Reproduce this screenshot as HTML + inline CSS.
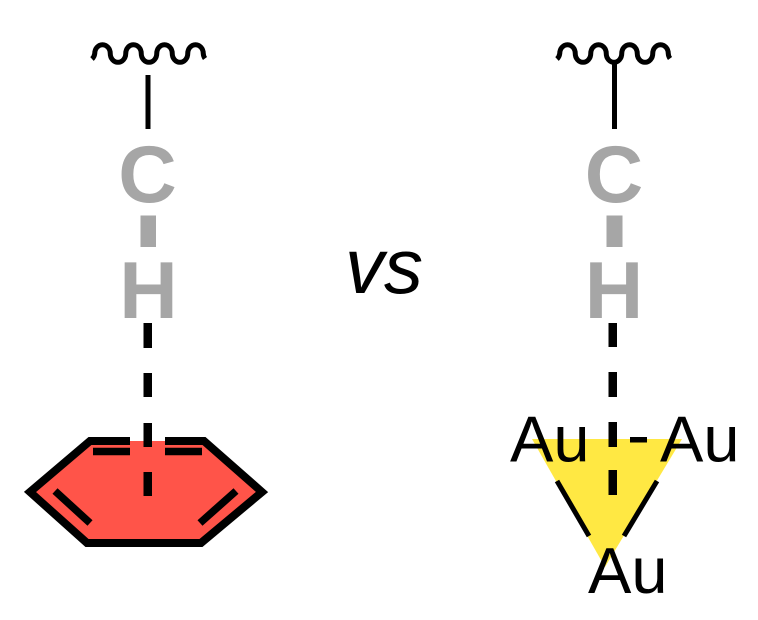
<!DOCTYPE html>
<html>
<head>
<meta charset="utf-8">
<style>
html,body{margin:0;padding:0;background:#fff;}
svg{display:block;}
</style>
</head>
<body>
<svg width="758" height="620" viewBox="0 0 758 620" xmlns="http://www.w3.org/2000/svg">
  <rect width="758" height="620" fill="#fff"/>

  <!-- LEFT: wavy line -->
  <path d="M92,59 A7.75,8.8 0 0 0 94.75,53.5 A7.75,8.8 0 0 1 110.25,53.5 A7.75,8.8 0 0 0 125.75,53.5 A7.75,8.8 0 0 1 141.25,53.5 A7.75,8.8 0 0 0 156.75,53.5 A7.75,8.8 0 0 1 172.25,53.5 A7.75,8.8 0 0 0 187.75,53.5 A7.75,8.8 0 0 1 203.25,53.5 A7.75,8.8 0 0 0 205,58.5"
        fill="none" stroke="#000" stroke-width="5"/>
  <line x1="148" y1="75" x2="148" y2="129" stroke="#000" stroke-width="5"/>

  <!-- LEFT: C-H -->
  <text x="147.5" y="202" text-anchor="middle" font-family="Liberation Sans, Arial, sans-serif" font-weight="bold" font-size="81" fill="#a6a6a6">C</text>
  <rect x="140.5" y="215.5" width="15.5" height="31.5" fill="#a6a6a6"/>
  <text x="148.5" y="318" text-anchor="middle" font-family="Liberation Sans, Arial, sans-serif" font-weight="bold" font-size="81" fill="#a6a6a6">H</text>

  <!-- LEFT: benzene -->
  <polygon points="30,492 90,441 204,441 262,492 201,543 87,543" fill="#ff5449"/>
  <polyline points="130,441 90,441 30,492 87,543 201,543 262,492 204,441 165,441"
            fill="none" stroke="#000" stroke-width="8" stroke-linejoin="miter" stroke-miterlimit="10"/>
  <line x1="93" y1="451.5" x2="130" y2="451.5" stroke="#000" stroke-width="7.5"/>
  <line x1="165" y1="451.5" x2="202" y2="451.5" stroke="#000" stroke-width="7.5"/>
  <line x1="55" y1="491" x2="90" y2="523" stroke="#000" stroke-width="7.5"/>
  <line x1="236" y1="491" x2="200" y2="523" stroke="#000" stroke-width="7.5"/>

  <!-- LEFT: dashed bond -->
  <rect x="143.5" y="323" width="8.5" height="25" fill="#000"/>
  <rect x="143.5" y="373" width="8.5" height="24" fill="#000"/>
  <rect x="143.5" y="423" width="8.5" height="24" fill="#000"/>
  <rect x="143.5" y="472" width="8.5" height="24" fill="#000"/>

  <!-- vs -->
  <text x="345" y="293" font-family="Liberation Sans, Arial, sans-serif" font-style="italic" font-size="78" fill="#000">vs</text>

  <!-- RIGHT: wavy line -->
  <path d="M557,59 A7.75,8.8 0 0 0 559.75,53.5 A7.75,8.8 0 0 1 575.25,53.5 A7.75,8.8 0 0 0 590.75,53.5 A7.75,8.8 0 0 1 606.25,53.5 A7.75,8.8 0 0 0 621.75,53.5 A7.75,8.8 0 0 1 637.25,53.5 A7.75,8.8 0 0 0 652.75,53.5 A7.75,8.8 0 0 1 668.25,53.5 A7.75,8.8 0 0 0 670,58.5"
        fill="none" stroke="#000" stroke-width="5"/>
  <line x1="614.5" y1="60" x2="614.5" y2="129" stroke="#000" stroke-width="5"/>

  <!-- RIGHT: C-H -->
  <text x="614" y="202" text-anchor="middle" font-family="Liberation Sans, Arial, sans-serif" font-weight="bold" font-size="81" fill="#a6a6a6">C</text>
  <rect x="606.5" y="215.5" width="16" height="31.5" fill="#a6a6a6"/>
  <text x="614" y="318" text-anchor="middle" font-family="Liberation Sans, Arial, sans-serif" font-weight="bold" font-size="81" fill="#a6a6a6">H</text>

  <!-- RIGHT: Au3 triangle -->
  <polygon points="532,439 682,439 605,567" fill="#ffe843"/>
  <line x1="557" y1="481" x2="589" y2="536" stroke="#000" stroke-width="5"/>
  <line x1="657" y1="481" x2="624" y2="536" stroke="#000" stroke-width="5"/>
  <rect x="630" y="437" width="17" height="5.5" fill="#000"/>

  <!-- RIGHT: dashed bond -->
  <rect x="608.5" y="323" width="8.5" height="24" fill="#000"/>
  <rect x="608.5" y="372" width="8.5" height="25" fill="#000"/>
  <rect x="608.5" y="422" width="8.5" height="25" fill="#000"/>
  <rect x="608.5" y="470" width="8.5" height="25" fill="#000"/>

  <text x="510" y="461.5" font-family="Liberation Sans, Arial, sans-serif" font-size="65" fill="#000">Au</text>
  <text x="660" y="461.5" font-family="Liberation Sans, Arial, sans-serif" font-size="65" fill="#000">Au</text>
  <text x="588" y="593" font-family="Liberation Sans, Arial, sans-serif" font-size="65" fill="#000">Au</text>
</svg>
</body>
</html>
